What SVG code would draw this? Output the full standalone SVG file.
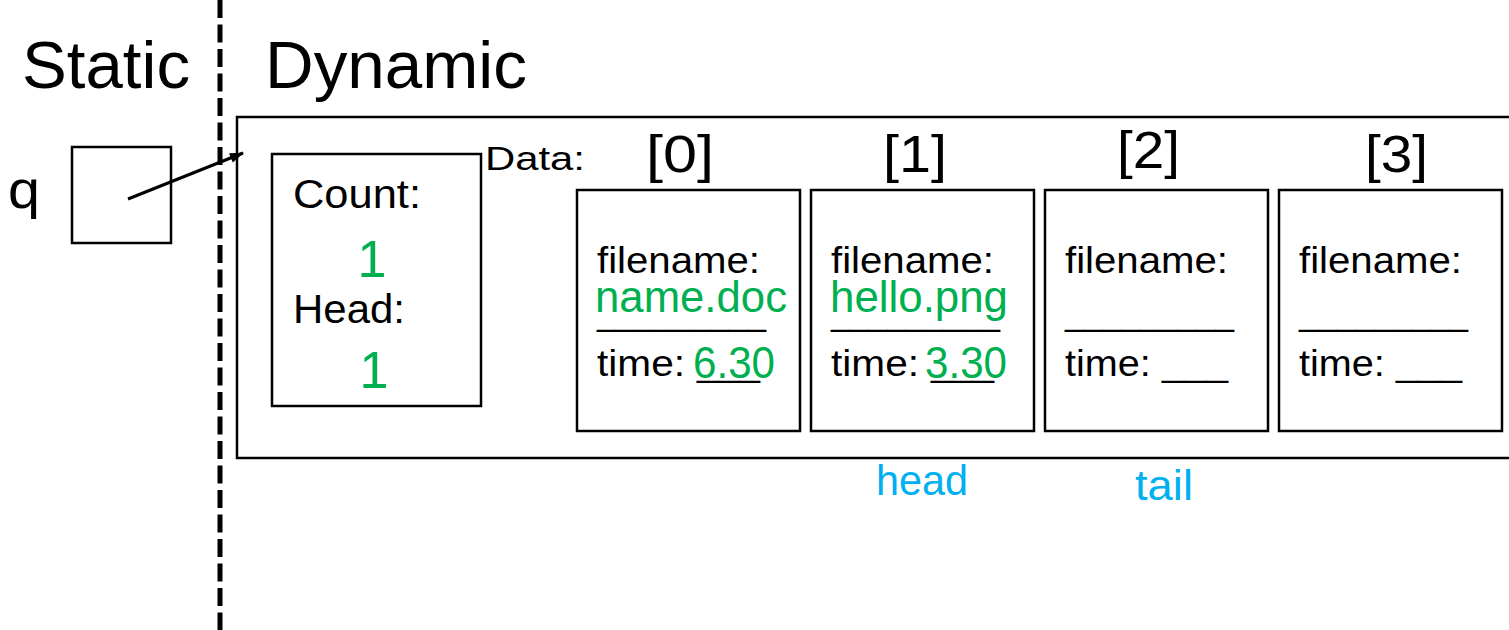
<svg xmlns="http://www.w3.org/2000/svg" width="1509" height="630" viewBox="0 0 1509 630">
<style>
text{font-family:"Liberation Sans",Arial,sans-serif;fill:#000}
.box{fill:none;stroke:#000;stroke-width:2.5}
.g{fill:#00B050}
.b{fill:#00B0F0}
.f{font-size:36px}
.v{font-size:44px}
.idx{font-size:52px}
</style>
<defs>
<marker id="ah" viewBox="0 0 14 10" markerWidth="14" markerHeight="10" refX="13" refY="5" orient="auto" markerUnits="userSpaceOnUse" overflow="visible"><path d="M0,0 L14,5 L0,10 z" fill="#000"/></marker>
</defs>
<g id="headers">
<text x="22" y="88" font-size="66" textLength="168" lengthAdjust="spacingAndGlyphs">Static</text>
<text x="265" y="88" font-size="66" textLength="262" lengthAdjust="spacingAndGlyphs">Dynamic</text>
<line x1="220" y1="0" x2="220" y2="630" stroke="#000" stroke-width="5" stroke-dasharray="18,6.5"/>
</g>
<g id="q">
<text x="8" y="208" font-size="54" textLength="32" lengthAdjust="spacingAndGlyphs">q</text>
<rect class="box" x="72" y="147" width="99" height="96"/>
</g>
<g id="heap">
<rect class="box" x="237" y="117" width="1280" height="341"/>
<text x="485" y="170" font-size="34" textLength="100" lengthAdjust="spacingAndGlyphs">Data:</text>
</g>
<g id="meta">
<rect class="box" x="272" y="154" width="209" height="252"/>
<text x="293" y="208" font-size="40" textLength="128" lengthAdjust="spacingAndGlyphs">Count:</text>
<text class="g" x="372" y="277" font-size="52" text-anchor="middle">1</text>
<text x="293" y="323" font-size="40" textLength="112" lengthAdjust="spacingAndGlyphs">Head:</text>
<text class="g" x="374" y="388" font-size="52" text-anchor="middle">1</text>
</g>
<g id="cell0">
<text class="idx" x="646" y="172" textLength="68" lengthAdjust="spacingAndGlyphs">[0]</text>
<rect class="box" x="577" y="190" width="223" height="241"/>
<text class="f" x="597" y="273" textLength="163" lengthAdjust="spacingAndGlyphs">filename:</text>
<text class="v g" x="595" y="312" textLength="192" lengthAdjust="spacingAndGlyphs">name.doc</text>
<text class="f" x="597" y="325" textLength="169" lengthAdjust="spacingAndGlyphs">_________</text>
<text class="f" x="597" y="376" textLength="88" lengthAdjust="spacingAndGlyphs">time:</text>
<text class="f" x="697" y="376" textLength="63" lengthAdjust="spacingAndGlyphs">___</text>
<text class="v g" x="693" y="378" textLength="82" lengthAdjust="spacingAndGlyphs">6.30</text>
</g>
<g id="cell1">
<text class="idx" x="883" y="172" textLength="64" lengthAdjust="spacingAndGlyphs">[1]</text>
<rect class="box" x="811" y="190" width="223" height="241"/>
<text class="f" x="831" y="273" textLength="163" lengthAdjust="spacingAndGlyphs">filename:</text>
<text class="v g" x="830" y="312" textLength="178" lengthAdjust="spacingAndGlyphs">hello.png</text>
<text class="f" x="831" y="325" textLength="169" lengthAdjust="spacingAndGlyphs">_________</text>
<text class="f" x="831" y="376" textLength="88" lengthAdjust="spacingAndGlyphs">time:</text>
<text class="f" x="931" y="376" textLength="63" lengthAdjust="spacingAndGlyphs">___</text>
<text class="v g" x="925" y="378" textLength="82" lengthAdjust="spacingAndGlyphs">3.30</text>
</g>
<g id="cell2">
<text class="idx" x="1117" y="168" textLength="63" lengthAdjust="spacingAndGlyphs">[2]</text>
<rect class="box" x="1045" y="190" width="223" height="241"/>
<text class="f" x="1065" y="273" textLength="163" lengthAdjust="spacingAndGlyphs">filename:</text>
<text class="f" x="1065" y="325" textLength="169" lengthAdjust="spacingAndGlyphs">_________</text>
<text class="f" x="1065" y="376" textLength="163" lengthAdjust="spacingAndGlyphs">time: ___</text>
</g>
<g id="cell3">
<text class="idx" x="1365" y="172" textLength="63" lengthAdjust="spacingAndGlyphs">[3]</text>
<rect class="box" x="1279" y="190" width="223" height="241"/>
<text class="f" x="1299" y="273" textLength="163" lengthAdjust="spacingAndGlyphs">filename:</text>
<text class="f" x="1299" y="325" textLength="169" lengthAdjust="spacingAndGlyphs">_________</text>
<text class="f" x="1299" y="376" textLength="163" lengthAdjust="spacingAndGlyphs">time: ___</text>
</g>
<g id="labels">
<text class="b" x="876" y="495" font-size="42" textLength="92" lengthAdjust="spacingAndGlyphs">head</text>
<text class="b" x="1135" y="500" font-size="42" textLength="58" lengthAdjust="spacingAndGlyphs">tail</text>
</g>
<g id="connectors">
<line x1="128" y1="199" x2="243" y2="153" stroke="#000" stroke-width="3" marker-end="url(#ah)"/>
</g>
</svg>
